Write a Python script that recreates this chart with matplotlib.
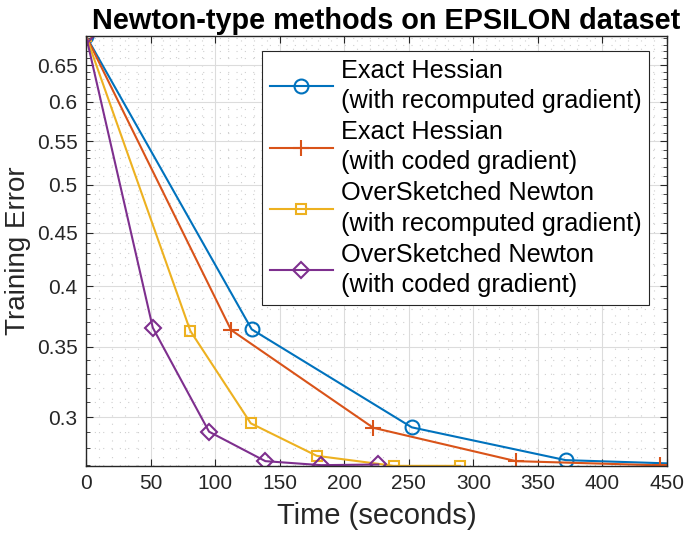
import numpy as np
import matplotlib
matplotlib.use("Agg")
import matplotlib.pyplot as plt
from matplotlib.ticker import FixedLocator, NullFormatter

plt.rcParams['font.family'] = ['Liberation Sans', 'DejaVu Sans']

# dados
t_exact_rec = [0, 128.3, 252.3, 371.5, 490]
e_exact_rec = [0.6931, 0.3638, 0.2933, 0.2729, 0.2700]

t_exact_cod = [0, 112.3, 222.5, 333.0, 444.6]
e_exact_cod = [0.6931, 0.3633, 0.2930, 0.2723, 0.2698]

t_over_rec = [0, 80.8, 127.6, 178.7, 238.3, 289.7]
e_over_rec = [0.6931, 0.3625, 0.2959, 0.2755, 0.2695, 0.2695]

t_over_cod = [0, 51.7, 95.3, 138.9, 182.2, 226.4]
e_over_cod = [0.6931, 0.3651, 0.2905, 0.2723, 0.2699, 0.2703]

labels = ["Exact Hessian\n(with recomputed gradient)",
          "Exact Hessian\n(with coded gradient)",
          "OverSketched Newton\n(with recomputed gradient)",
          "OverSketched Newton\n(with coded gradient)"]

y_ticks = [0.3, 0.35, 0.4, 0.45, 0.5, 0.55, 0.6, 0.65]
y_ticklabels = ["0.3", "0.35", "0.4", "0.45", "0.5", "0.55", "0.6", "0.65"]
x_ticks = [0, 50, 100, 150, 200, 250, 300, 350, 400, 450]

cores = ["#0072BD", "#D95319", "#EDB120", "#7E2F8E"]

fig = plt.figure(figsize=(6.86, 5.41), dpi=100)
ax = fig.add_axes([0.1254, 0.1386, 0.9723 - 0.1254, 0.9335 - 0.1386])

ax.plot(t_exact_rec, e_exact_rec, color=cores[0], lw=1.5, marker="o", ms=10,
        mfc="none", mew=1.5, label=labels[0])
ax.plot(t_exact_cod, e_exact_cod, color=cores[1], lw=1.5, marker="+", ms=11,
        mew=1.5, label=labels[1])
ax.plot(t_over_rec, e_over_rec, color=cores[2], lw=1.5, marker="s", ms=7.5,
        mfc="none", mew=1.5, label=labels[2])
ax.plot(t_over_cod, e_over_cod, color=cores[3], lw=1.5, marker="D", ms=8.5,
        mfc="none", mew=1.5, label=labels[3])

ax.set_yscale("log")
ax.set_xlim(0, 450)
ax.set_ylim(0.2694, 0.6931)

ax.xaxis.set_major_locator(FixedLocator(x_ticks))
ax.xaxis.set_minor_locator(FixedLocator(np.arange(0, 451, 10)))
ax.yaxis.set_major_locator(FixedLocator(y_ticks))
ax.set_yticklabels(y_ticklabels)
ax.yaxis.set_minor_locator(FixedLocator(np.arange(0.27, 0.695, 0.01)))
ax.yaxis.set_minor_formatter(NullFormatter())

ax.tick_params(which="both", direction="in", top=True, right=True,
               labelsize=15, colors="#262626")
ax.tick_params(which="major", length=5, width=0.8, pad=6)
ax.tick_params(which="minor", length=3, width=0.6)
ax.tick_params(axis="x", which="minor", length=0)

ax.grid(True, which="major", color="#dcdcdc", lw=0.8)
ax.grid(True, which="minor", color="#cfcfcf", lw=0.8, linestyle=(0, (1, 6.5)))
ax.set_axisbelow(True)
for s in ax.spines.values():
    s.set_color("#262626")
    s.set_linewidth(1.0)

ax.set_title("Newton-type methods on EPSILON dataset", fontsize=20.8,
             fontweight="bold", pad=5, x=0.516)
ax.set_xlabel("Time (seconds)", fontsize=21, color="#262626", labelpad=6)
ax.set_ylabel("Training Error", fontsize=20, color="#262626", labelpad=4)

leg = ax.legend(loc="upper right", bbox_to_anchor=(0.969, 0.965), fontsize=18.2,
                frameon=True, fancybox=False, edgecolor="#262626",
                framealpha=1, handlelength=2.5, handletextpad=0.3,
                labelspacing=0.28, borderpad=0.3, borderaxespad=0)
leg.get_frame().set_linewidth(0.8)
for t in leg.get_texts():
    t.set_linespacing(1.33)

fig.savefig("out.png", dpi=100)
